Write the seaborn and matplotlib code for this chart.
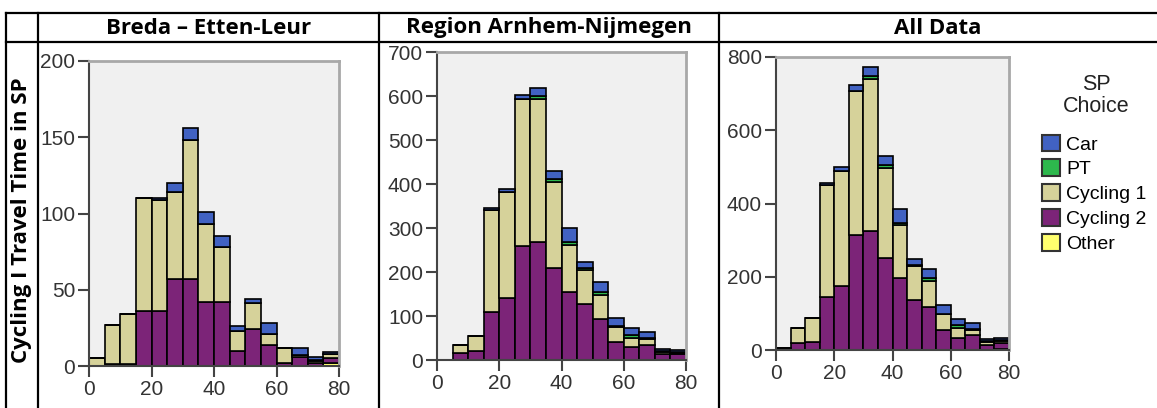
import numpy as np
import pandas as pd
import matplotlib.pyplot as plt
from matplotlib.lines import Line2D
import seaborn as sns

plt.rcParams['font.family'] = ['Liberation Sans', 'DejaVu Sans']

# bins of 5 minutes, 0-80
bin_start = [0, 5, 10, 15, 20, 25, 30, 35, 40, 45, 50, 55, 60, 65, 70, 75]
choices = ['Car', 'PT', 'Cycling 1', 'Cycling 2', 'Other']
colors = ['#4162C2', '#2DB84D', '#D6D29A', '#7C2478', '#FFFF6E']

# counts per bin
breda_car = [0, 0, 0, 0, 1, 6, 8, 8, 7, 3, 3, 7, 0, 5, 2, 1]
breda_pt = [0, 0, 0, 0, 0, 0, 0, 0, 0, 0, 0, 0, 0, 0, 1, 0]
breda_cyc1 = [5, 26, 33, 74, 73, 57, 91, 51, 36, 13, 17, 7, 10, 1, 1, 3]
breda_cyc2 = [0, 1, 1, 36, 36, 57, 57, 42, 42, 10, 24, 14, 2, 6, 2, 3]
breda_other = [0, 0, 0, 0, 0, 0, 0, 0, 0, 0, 0, 0, 0, 0, 0, 2]

arnhem_car = [0, 0, 0, 4, 8, 10, 17, 18, 32, 14, 22, 17, 15, 12, 5, 4]
arnhem_pt = [0, 0, 0, 0, 0, 0, 8, 8, 6, 3, 7, 2, 8, 3, 2, 2]
arnhem_cyc1 = [0, 16, 33, 231, 241, 335, 325, 195, 108, 78, 55, 36, 19, 14, 5, 4]
arnhem_cyc2 = [0, 17, 21, 110, 140, 258, 268, 209, 154, 127, 93, 40, 30, 34, 13, 13]
arnhem_other = [0, 0, 0, 0, 0, 0, 0, 0, 0, 0, 0, 0, 0, 0, 0, 0]

all_car = [0, 0, 0, 4, 9, 16, 25, 26, 39, 17, 25, 24, 15, 17, 7, 5]
all_pt = [0, 0, 0, 0, 0, 0, 8, 8, 6, 3, 7, 2, 8, 3, 3, 2]
all_cyc1 = [5, 42, 66, 305, 314, 392, 416, 246, 144, 91, 72, 43, 29, 15, 6, 7]
all_cyc2 = [0, 18, 22, 146, 176, 315, 325, 251, 196, 137, 117, 54, 32, 40, 15, 16]
all_other = [0, 0, 0, 0, 0, 0, 0, 0, 0, 0, 0, 0, 0, 0, 0, 2]

titles = ['Breda \u2013 Etten-Leur', 'Region Arnhem-Nijmegen', 'All Data']
y_max = [200, 700, 800]
y_step = [50, 100, 200]
x_ticks = [0, 20, 40, 60, 80]


def make_df(car, pt, cyc1, cyc2, other):
    rows = []
    for name, vals in zip(choices, [car, pt, cyc1, cyc2, other]):
        for b, v in zip(bin_start, vals):
            rows.append({'time': b + 2.5, 'choice': name, 'count': v})
    return pd.DataFrame(rows)


frames = [
    make_df(breda_car, breda_pt, breda_cyc1, breda_cyc2, breda_other),
    make_df(arnhem_car, arnhem_pt, arnhem_cyc1, arnhem_cyc2, arnhem_other),
    make_df(all_car, all_pt, all_cyc1, all_cyc2, all_other),
]

W, H = 1157, 408
fig = plt.figure(figsize=(W / 100, H / 100), dpi=100)


def rect(l, r, t, b):
    return [l / W, 1 - b / H, (r - l) / W, (b - t) / H]


boxes = [rect(89, 339, 61, 366), rect(437, 686, 52, 360), rect(776, 1009, 57, 350)]
edges = list(range(0, 85, 5))

axes = []
for i, df in enumerate(frames):
    ax = fig.add_axes(boxes[i])
    sns.histplot(data=df, x='time', weights='count', hue='choice',
                 hue_order=choices, palette=colors, multiple='stack',
                 bins=edges, alpha=1, edgecolor='black', linewidth=1.2,
                 legend=(i == 2), ax=ax)
    ax.set_facecolor('#F0F0F0')
    ax.set_xlim(0, 80)
    ax.set_ylim(0, y_max[i])
    ax.set_xticks(x_ticks)
    ax.set_yticks(np.arange(0, y_max[i] + 1, y_step[i]))
    ax.set_xlabel('')
    ax.set_ylabel('')
    for s in ['top', 'right']:
        ax.spines[s].set_color('#A8A8A8')
        ax.spines[s].set_linewidth(2)
    for s in ['left', 'bottom']:
        ax.spines[s].set_color('#444444')
        ax.spines[s].set_linewidth(1.5)
    ax.tick_params(length=8, width=1.5, color='#444444', labelsize=15,
                   labelcolor='#333333', pad=2)
    axes.append(ax)

leg_ax = axes[2]
sns.move_legend(leg_ax, 'upper left', bbox_to_anchor=(1042 / W, 1 - 134.5 / H),
                bbox_transform=fig.transFigure, frameon=False, title=None,
                fontsize=14, handlelength=0.95, handleheight=0.95,
                labelspacing=0.3, handletextpad=0.3,
                borderpad=0, borderaxespad=0)
for h in leg_ax.get_legend().legend_handles:
    h.set_edgecolor('#333333')
    h.set_linewidth(1.5)
fig.text(1096 / W, 1 - 84 / H, 'SP', ha='center', va='center', fontsize=15.5, color='#222222')
fig.text(1096 / W, 1 - 106.5 / H, 'Choice', ha='center', va='center', fontsize=15.5, color='#222222')

# table lines
lw = 1.6
for y in [13, 42]:
    fig.add_artist(Line2D([6 / W, 1], [1 - y / H, 1 - y / H], color='black', lw=lw))
for x in [6, 38, 379, 719]:
    fig.add_artist(Line2D([x / W, x / W], [1 - 13 / H, 0], color='black', lw=lw))

# column headers
centers = [208.5, 549, 938]
for c, t in zip(centers, titles):
    fig.text(c / W, 1 - 28 / H, t, ha='center', va='center', fontsize=16,
             fontweight='bold', family='Open Sans')

fig.text(22 / W, 1 - 220 / H, 'Cycling I Travel Time in SP', rotation=90,
         ha='center', va='center', fontsize=16, fontweight='bold', family='Open Sans')

fig.savefig('out.png', dpi=100)
